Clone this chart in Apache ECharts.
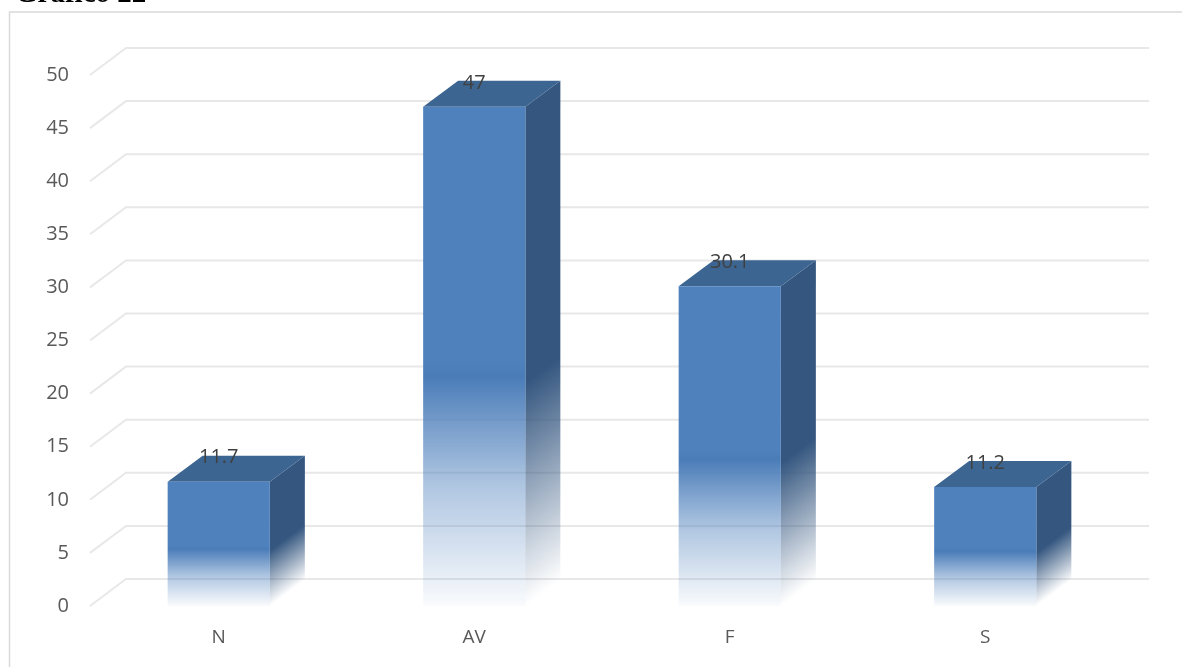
<!DOCTYPE html>
<html>
<head>
<meta charset="utf-8">
<script src="https://cdn.jsdelivr.net/npm/echarts@6/dist/echarts.min.js"></script>
<style>
html,body{margin:0;padding:0;background:#fff;}
#chart{width:1182px;height:667px;}
</style>
</head>
<body>
<div id="chart"></div>
<script>
const titleText = 'Gráfico 22';
const categories = ['N', 'AV', 'F', 'S'];
const values = [11.7, 47, 30.1, 11.2];
const yTicks = [0, 5, 10, 15, 20, 25, 30, 35, 40, 45, 50];

const DX = 35, DY = -26;
const FONT = '"Open Sans", "Liberation Sans", sans-serif';

const chart = echarts.init(document.getElementById('chart'), null, {renderer: 'canvas'});

function gridRender(params, api) {
  const v = api.value(1);
  const p = api.coord([0, v]);
  const cs = params.coordSys;
  const x0 = cs.x - 1, x1 = cs.x + cs.width;
  return {
    type: 'polyline',
    shape: {points: [[x0, p[1]], [x0 + DX + 1, p[1] + DY - 1], [x1 + DX + 1, p[1] + DY - 1]]},
    style: {stroke: '#e8e8e8', lineWidth: 2, fill: null}
  };
}

function barRender(params, api) {
  const i = api.value(0), v = api.value(1);
  const top = api.coord([i, v]);
  const base = api.coord([i, 0]);
  const bw = api.size([1, 0])[0] * 0.4;
  const xl = top[0] - bw / 2, xr = top[0] + bw / 2;
  const yt = top[1], yb = base[1];
  const h = yb - yt;
  const nl = Math.sqrt(DX * DX + DY * DY);
  const nx = -DY / nl, ny = DX / nl;
  const fd = h * 0.36;
  const sideGrad = new echarts.graphic.LinearGradient(
    xr - nx * fd, yb - ny * fd, xr, yb,
    [{offset: 0, color: 'rgba(52,86,127,1)'}, {offset: 1, color: 'rgba(52,86,127,0)'}], true);
  const frontGrad = new echarts.graphic.LinearGradient(0, 0, 0, 1, [
    {offset: 0, color: 'rgba(79,129,189,1)'},
    {offset: 0.51, color: 'rgba(79,129,189,1)'},
    {offset: 0.54, color: 'rgba(74,124,184,1)'},
    {offset: 0.76, color: 'rgba(79,129,189,0.45)'},
    {offset: 1, color: 'rgba(79,129,189,0.03)'}
  ]);
  return {
    type: 'group',
    children: [
      {
        type: 'polygon',
        shape: {points: [[xr, yt], [xr + DX, yt + DY], [xr + DX, yb + DY], [xr, yb]]},
        style: {fill: sideGrad}
      },
      {
        type: 'polygon',
        shape: {points: [[xl, yt], [xl + DX, yt + DY], [xr + DX, yt + DY], [xr, yt]]},
        style: {fill: '#3c6592'}
      },
      {
        type: 'rect',
        shape: {x: xl, y: yt, width: bw, height: h},
        style: {fill: frontGrad}
      },
      {
        type: 'text',
        style: {
          text: String(v), x: top[0], y: yt + DY + 2,
          align: 'center', verticalAlign: 'middle',
          fill: '#404040', font: '20px ' + FONT
        }
      }
    ]
  };
}

const option = {
  animation: false,
  graphic: [
    {type: 'rect', shape: {x: 9.5, y: 12, width: 1200, height: 700},
     style: {fill: null, stroke: '#d9d9d9', lineWidth: 1.5}, z: -10},
    {type: 'text', x: 15, y: -5,
     style: {text: titleText, font: 'bold 29px "Liberation Serif", serif', fill: '#000',
             verticalAlign: 'middle', align: 'left'}}
  ],
  grid: {left: 91, right: 69, top: 75, bottom: 61},
  xAxis: {
    type: 'category', data: categories, boundaryGap: true,
    axisLine: {show: false}, axisTick: {show: false}, splitLine: {show: false},
    axisLabel: {color: '#595959', fontSize: 19, fontFamily: FONT, margin: 22}
  },
  yAxis: {
    type: 'value', min: 0, max: 50, interval: 5,
    axisLine: {show: false}, axisTick: {show: false}, splitLine: {show: false},
    axisLabel: {color: '#595959', fontSize: 20, fontFamily: FONT, margin: 22}
  },
  series: [
    {
      type: 'custom', z: 1, silent: true,
      renderItem: gridRender,
      data: yTicks.map(t => [0, t])
    },
    {
      type: 'custom', z: 2,
      renderItem: barRender,
      data: values.map((v, i) => [i, v])
    }
  ]
};
chart.setOption(option);
</script>
</body>
</html>
